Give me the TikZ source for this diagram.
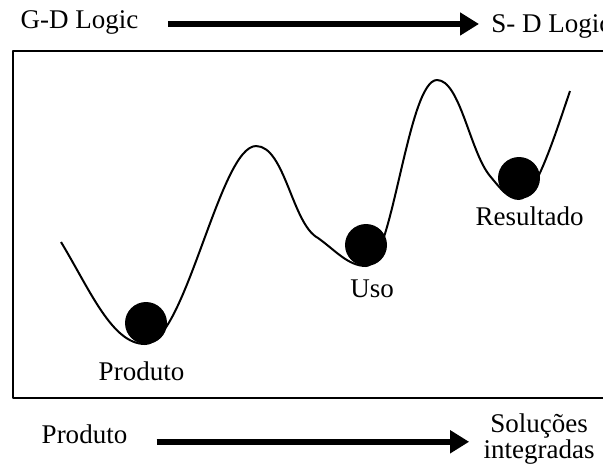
\documentclass[tikz,border=0pt]{standalone}
\usepackage{fontspec}
\setmainfont{Liberation Serif}
\usetikzlibrary{arrows.meta}

\begin{document}
\begin{tikzpicture}[x=0.5pt, y=-0.5pt, line join=round,
    lbl/.style={inner sep=0pt, font=\fontsize{13.5}{12}\selectfont},
    ball/.style={circle, fill=black, inner sep=0pt, minimum size=21pt},
    curve/.style={line width=1pt},
    bigarrow/.style={line width=2.75pt, -{Triangle[length=9.5pt, width=11pt]}}]
  \path[use as bounding box, clip] (0, 0) rectangle (603, 468);

  % Top: G-D Logic -> S-D Logic
  \node[lbl, anchor=base] (gd) at (79.5, 28) {G-D Logic};
  \node[lbl, anchor=base west] (sd) at (491, 32) {S- D Logic};
  \draw[bigarrow, shorten <=14.5pt, shorten >=6pt]
    ([yshift=-1pt]gd.east) -- ([yshift=-1pt]gd.east -| sd.west);

  % Frame (runs past the right edge)
  \draw[line width=1.2pt] (13, 51) rectangle (640, 398);

  % Landscape
  \draw[curve] (61, 242) .. controls (90, 290) and (112, 344) .. (145, 344)
    .. controls (185, 344) and (220, 146) .. (256, 146)
    .. controls (285, 146) and (292, 224) .. (318, 238)
    .. controls (335, 250) and (348, 266) .. (366, 266)
    .. controls (392, 266) and (408, 80) .. (437, 80)
    .. controls (460, 80) and (470, 152) .. (490, 176)
    .. controls (500, 188) and (508, 199) .. (519, 199)
    .. controls (535, 199) and (555, 135) .. (570, 91);

  % Balls and their labels
  \node[ball] (produto) at (146, 323) {};
  \node[ball] (uso) at (366, 245) {};
  \node[ball] (resultado) at (519, 178) {};
  \node[lbl, anchor=base] (produtolbl) at (141.5, 380) {Produto};
  \node[lbl, anchor=base] (usolbl) at (372, 297) {Uso};
  \node[lbl, anchor=base] (resultadolbl) at (529.5, 225) {Resultado};

  % Bottom: Produto -> Solucoes integradas
  \node[lbl, anchor=base] (pb) at (84.5, 443) {Produto};
  \node[lbl, anchor=north, align=center] (sol) at (539, 413) {Soluções\\integradas};
  \draw[bigarrow, shorten <=14.5pt, shorten >=7pt]
    ([yshift=-4pt]pb.east) -- ([yshift=-4pt]pb.east -| sol.west);
\end{tikzpicture}
\end{document}
